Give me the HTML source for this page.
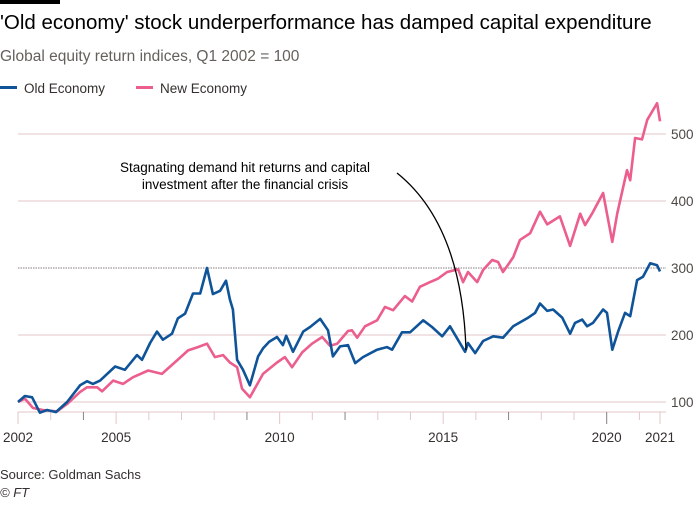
<!DOCTYPE html>
<html><head><meta charset="utf-8"><style>
body{margin:0;background:#fff;width:700px;height:500px;overflow:hidden;font-family:"Liberation Sans",sans-serif;color:#33302e}
svg text{font-family:"Liberation Sans",sans-serif}
</style></head><body>
<svg width="700" height="500" id="chart">
<rect x="0" y="0" width="60" height="4" fill="#000"/>
<text x="0" y="29" font-size="20.5" fill="#000">'Old economy' stock underperformance has damped capital expenditure</text>
<text x="0" y="61" font-size="15.5" fill="#66605c">Global equity return indices, Q1 2002 = 100</text>
<g>
<g><rect x="0" y="86" width="17" height="3" fill="#0f5499"/><text x="24" y="93" font-size="13.5" fill="#33302e">Old Economy</text></g>
<g><rect x="136" y="86" width="17" height="3" fill="#eb5e8d"/><text x="160" y="93" font-size="13.5" fill="#33302e">New Economy</text></g>
</g>
<g id="grid"></g><g id="xaxis"></g><g id="series"></g>
<g>
<text x="245" y="172" font-size="13.5" text-anchor="middle" fill="#000">Stagnating demand hit returns and capital</text>
<text x="245" y="189" font-size="13.5" text-anchor="middle" fill="#000">investment after the financial crisis</text>
<path d="M397,173 Q462,225 466,350" fill="none" stroke="#000" stroke-width="1.3"/>
</g>
<text x="0" y="479" font-size="13" fill="#33302e">Source: Goldman Sachs</text>
<text x="0" y="497" font-size="13" font-style="italic" fill="#33302e">© FT</text>
</svg>
<script>
const yTicks=[100,200,300,400,500];
const xLabelYears=[2002,2005,2010,2015,2020];
const oldYears=[2002,2002.21,2002.43,2002.67,2002.89,2003.16,2003.5,2003.9,2004.11,2004.29,2004.51,2004.97,2005.27,2005.64,2005.79,2006.04,2006.25,2006.43,2006.71,2006.89,2007.11,2007.35,2007.57,2007.78,2007.96,2008.18,2008.36,2008.48,2008.57,2008.7,2008.88,2009.09,2009.34,2009.49,2009.68,2009.92,2010.1,2010.2,2010.41,2010.72,2010.93,2011.24,2011.48,2011.63,2011.85,2012.09,2012.31,2012.55,2012.98,2013.28,2013.44,2013.74,2013.99,2014.39,2014.66,2014.97,2015.21,2015.67,2015.76,2015.98,2016.22,2016.53,2016.83,2017.14,2017.57,2017.81,2017.96,2018.18,2018.36,2018.64,2018.88,2019.03,2019.25,2019.4,2019.58,2019.89,2020.01,2020.17,2020.35,2020.56,2020.72,2020.93,2021.11,2021.33,2021.54,2021.63];
const oldValues=[100,109,107,84,88,85,100,125,131,127,132,153,148,170,163,188,205,193,202,225,232,262,262,300,261,266,281,253,238,163,148,125,168,180,190,197,185,199,175,205,212,224,207,168,183,185,158,167,178,182,178,204,204,222,212,198,213,175,188,173,191,198,196,213,225,233,247,236,238,226,202,218,223,213,218,238,233,178,205,233,228,282,287,307,304,295];
const newYears=[2002,2002.21,2002.46,2002.76,2003.19,2003.5,2003.9,2004.11,2004.42,2004.57,2004.91,2005.21,2005.52,2005.98,2006.4,2006.86,2007.2,2007.5,2007.78,2008.02,2008.27,2008.48,2008.7,2008.85,2009.09,2009.49,2009.92,2010.16,2010.38,2010.69,2010.99,2011.3,2011.54,2011.76,2012.09,2012.21,2012.37,2012.61,2012.98,2013.22,2013.47,2013.83,2014.05,2014.29,2014.6,2014.84,2015.12,2015.46,2015.61,2015.76,2016.04,2016.22,2016.5,2016.68,2016.83,2017.14,2017.35,2017.66,2017.96,2018.18,2018.57,2018.88,2019.19,2019.34,2019.55,2019.89,2020.17,2020.32,2020.62,2020.72,2020.87,2021.08,2021.24,2021.54,2021.63];
const newValues=[100,105,91,88,86,97,115,122,122,116,132,127,137,147,142,162,177,182,187,167,170,159,152,120,107,142,159,167,152,174,187,197,184,187,206,207,196,213,222,242,237,258,250,272,279,284,294,298,279,294,279,297,312,309,294,316,342,352,384,365,377,333,381,364,381,412,339,381,446,431,494,492,521,546,519];
const NS='http://www.w3.org/2000/svg';
const x=t=>18+(t-2002)*(642/19.63);
const y=v=>402-(v-100)*0.67;
function mk(tag,attrs,parent){const e=document.createElementNS(NS,tag);for(const k in attrs)e.setAttribute(k,attrs[k]);parent.appendChild(e);return e;}
const grid=document.getElementById('grid');
yTicks.forEach(v=>{
  const l=mk('line',{x1:18,x2:666,y1:y(v),y2:y(v),stroke:v===300?'#8a7f7f':'#e3c7c7','stroke-width':1,'stroke-dasharray':v===300?'1.5,1':'none'},grid);
  
  
  const t=mk('text',{x:671,y:y(v)+5,'font-size':13.5,fill:'#4d4845'},grid);
  t.textContent=v;
  
  
});
const xa=document.getElementById('xaxis');
const base=mk('line',{x1:18,x2:666,y1:412,y2:412,stroke:'#e3c7c7','stroke-width':1},xa);


for(let yr=2002;yr<=2021;yr++){
  const dark=[2004,2009,2012,2017,2020].includes(yr);
  const long=xLabelYears.includes(yr);
  const tk=mk('line',{x1:x(yr),x2:x(yr),y1:412,y2:long?424:420,stroke:dark?'#8a8080':'#e3c7c7','stroke-width':1},xa);
  
  
}
const endT=mk('line',{x1:660,x2:660,y1:412,y2:424,stroke:'#e3c7c7'},xa);


xLabelYears.forEach(yr=>{
  const t=mk('text',{x:x(yr),y:442,'font-size':13.5,'text-anchor':'middle',fill:'#33302e'},xa);
  t.textContent=yr;
  
  
});
const t21=mk('text',{x:660,y:442,'font-size':13.5,'text-anchor':'middle',fill:'#33302e'},xa);
t21.textContent='2021';


const ser=document.getElementById('series');
function line(ys,vs,color,name){
  const d=ys.map((t,i)=>(i?'L':'M')+x(t).toFixed(1)+','+y(vs[i]).toFixed(1)).join('');
  const p=mk('path',{d:d,fill:'none',stroke:color,'stroke-width':2.6,'stroke-linejoin':'round'},ser);
  
  
}
line(newYears,newValues,'#eb5e8d','new-economy-line');
line(oldYears,oldValues,'#0f5499','old-economy-line');
</script>
</body></html>
